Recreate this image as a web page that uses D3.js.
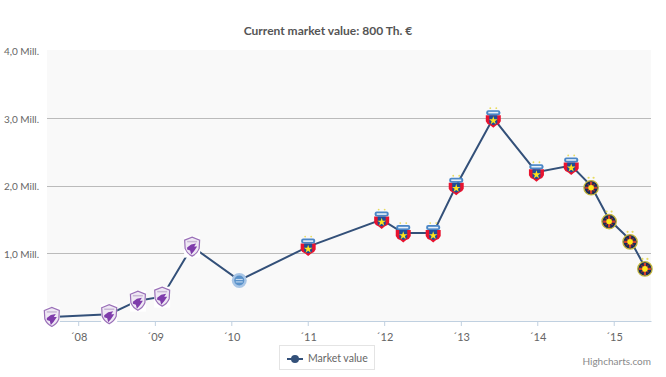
<!DOCTYPE html>
<html>
<head>
<meta charset="utf-8">
<script src="https://cdn.jsdelivr.net/npm/d3@7"></script>
<style>
    html, body { margin: 0; padding: 0; background: #fff; }
    svg { display: block; }
    text { font-family: Lato, "Open Sans", sans-serif; }
</style>
</head>
<body>
<svg id="chart" width="666" height="377"></svg>
<script>
const dates = ["2007-08-28", "2008-05-28", "2008-10-12", "2009-02-05", "2009-06-28", "2010-02-08",
    "2011-01-03", "2011-12-20", "2012-04-01", "2012-08-22", "2012-12-10", "2013-06-05",
    "2013-12-28", "2014-06-12", "2014-09-15", "2014-12-10", "2015-03-20", "2015-05-30"];
const values = [0.06, 0.1, 0.3, 0.36, 1.1, 0.6, 1.1, 1.5, 1.3, 1.3, 2.0, 3.0, 2.2, 2.3, 2.0, 1.5, 1.2, 0.8];
const clubs = ["fcb", "fcb", "fcb", "fcb", "fcb", "pan", "ste", "ste", "ste", "ste", "ste", "ste",
    "ste", "ste", "fcs", "fcs", "fcs", "fcs"];
const yearTicks = [2008, 2009, 2010, 2011, 2012, 2013, 2014, 2015];
const valueTicks = [1, 2, 3, 4];
const valueLabels = ["1,0 Mill.", "2,0 Mill.", "3,0 Mill.", "4,0 Mill."];

const parseDate = d3.timeParse("%Y-%m-%d");
const points = dates.map((d, i) => ({date: parseDate(d), value: values[i], club: clubs[i]}));

const margin = {top: 50, right: 15, bottom: 56, left: 47};
const width = 666, height = 377;

const svg = d3.select("#chart");

const xScale = d3.scaleTime()
    .domain([parseDate("2007-08-05"), parseDate("2015-06-28")])
    .range([margin.left, width - margin.right]);

const yScale = d3.scaleLinear()
    .domain([0, 4])
    .range([height - margin.bottom, margin.top + 0.5]);

// Plot background
svg.append("rect")
    .attr("x", margin.left)
    .attr("y", margin.top)
    .attr("width", width - margin.left - margin.right)
    .attr("height", height - margin.bottom - margin.top)
    .attr("fill", "#f9f9f9");

// Title
svg.append("text")
    .attr("x", 328)
    .attr("y", 35)
    .attr("text-anchor", "middle")
    .attr("font-size", 12)
    .attr("font-weight", 700)
    .attr("fill", "#555")
    .text("Current market value: 800 Th. €");

// Axes
const yAxis = d3.axisLeft(yScale)
    .tickValues(valueTicks)
    .tickSize(0)
    .tickPadding(8)
    .tickFormat((d, i) => valueLabels[i]);

const yAxisG = svg.append("g")
    .attr("transform", `translate(${margin.left},1)`)
    .call(yAxis);
yAxisG.select(".domain").remove();
yAxisG.selectAll("text").attr("font-size", 10).attr("fill", "#666").attr("font-family", "Lato");

svg.append("g")
    .selectAll("line")
    .data(valueTicks.filter(d => d < 4))
    .enter().append("line")
    .attr("x1", margin.left)
    .attr("x2", width - margin.right)
    .attr("y1", d => Math.round(yScale(d)) + 0.5)
    .attr("y2", d => Math.round(yScale(d)) + 0.5)
    .attr("stroke", "#bbb");

const xAxis = d3.axisBottom(xScale)
    .tickValues(yearTicks.map(y => new Date(y, 0, 1)))
    .tickSize(5)
    .tickSizeOuter(0)
    .tickPadding(7)
    .tickFormat(d => "´" + d3.timeFormat("%y")(d));

const xAxisG = svg.append("g")
    .attr("transform", `translate(0,${height - margin.bottom})`)
    .call(xAxis);
xAxisG.select(".domain").attr("stroke", "#c0d0e0");
xAxisG.selectAll("line").attr("stroke", "#c0d0e0");
xAxisG.selectAll("text").attr("font-size", 11).attr("fill", "#666").attr("font-family", "Lato");

// Value line
const line = d3.line()
    .x(d => xScale(d.date))
    .y(d => yScale(d.value));

svg.append("path")
    .datum(points)
    .attr("d", line)
    .attr("fill", "none")
    .attr("stroke", "#335079")
    .attr("stroke-width", 2);

// Club crests
const shield = "M-7.5,-6.5 L0,-9.5 L7.5,-6.5 L7,2 Q5,7 0,9.5 Q-5,7 -7,2 Z";

function drawFcb(g) {
    g.append("rect").attr("x", -8).attr("y", -10).attr("width", 16).attr("height", 21).attr("fill", "#fff");
    g.append("path").attr("d", shield).attr("fill", "#efe8f4").attr("stroke", "#9a70b8").attr("stroke-width", 1.2);
    g.append("path").attr("d", "M-5,1 L-1,-2 L4,-3 L2,0 L5,0 Q2,5 -1,8 L-2,4 L-5,3 Z").attr("fill", "#7f3cab");
    g.append("path").attr("d", "M-5,-5 L5,-5").attr("stroke", "#c9b8d6").attr("stroke-width", 1.5);
}

function drawPan(g) {
    g.append("circle").attr("r", 7.5).attr("fill", "#a9c6e6");
    g.append("circle").attr("r", 5).attr("fill", "#5a92ca");
    g.append("path").attr("d", "M-3.5,-1 H3.5 M-3.5,1.5 H3.5").attr("stroke", "#cfe0f2").attr("stroke-width", 1);
}

function drawSte(g) {
    g.append("circle").attr("cx", -3).attr("cy", -10).attr("r", 0.9).attr("fill", "#e8dc60");
    g.append("circle").attr("cx", 3).attr("cy", -10).attr("r", 0.9).attr("fill", "#e8dc60");
    g.append("path").attr("d", "M-7.5,-3 H7.5 V3 Q6.5,6 3,7 L0,9.5 L-3,7 Q-6.5,6 -7.5,3 Z").attr("fill", "#e8132f");
    g.append("path").attr("d", "M-4,-3 H4 V5 L0,7 L-4,5 Z").attr("fill", "#1f4d96");
    g.append("rect").attr("x", -7).attr("y", -8).attr("width", 14).attr("height", 5).attr("rx", 2).attr("fill", "#4a86c6");
    g.append("rect").attr("x", -5).attr("y", -6.3).attr("width", 10).attr("height", 1.6).attr("fill", "#e6f0f9");
    g.append("path").attr("d", d3.symbol(d3.symbolStar, 22)()).attr("transform", "translate(0,2.5)").attr("fill", "#ffe21a");
}

function drawFcs(g) {
    g.append("circle").attr("cx", -2.5).attr("cy", -8).attr("r", 1.1).attr("fill", "#e8dc60");
    g.append("circle").attr("cx", 2.5).attr("cy", -8).attr("r", 1.1).attr("fill", "#e8dc60");
    g.append("circle").attr("cy", 2).attr("r", 7.2).attr("fill", "#172b57").attr("stroke", "#c4b53c").attr("stroke-width", 1.3);
    g.append("path").attr("d", "M-6,2 H6 M0,-4 V8").attr("stroke", "#d0402c").attr("stroke-width", 2.2);
    g.append("path").attr("d", "M-3.5,-1.5 L3.5,5.5 M3.5,-1.5 L-3.5,5.5").attr("stroke", "#a8322c").attr("stroke-width", 1.2);
    g.append("circle").attr("cy", 2).attr("r", 2.8).attr("fill", "#ffe81a");
}

const crestDrawers = {fcb: drawFcb, pan: drawPan, ste: drawSte, fcs: drawFcs};

svg.append("g")
    .selectAll("g")
    .data(points)
    .enter().append("g")
    .attr("transform", d => `translate(${xScale(d.date)},${yScale(d.value)})`)
    .each(function(d) { crestDrawers[d.club](d3.select(this)); });

// Legend
const legend = svg.append("g");
legend.append("rect")
    .attr("x", 279.5).attr("y", 345.5)
    .attr("width", 95).attr("height", 24)
    .attr("fill", "#fff")
    .attr("stroke", "#e4e4e4");
legend.append("line")
    .attr("x1", 287).attr("x2", 303)
    .attr("y1", 359).attr("y2", 359)
    .attr("stroke", "#335079").attr("stroke-width", 2);
legend.append("circle")
    .attr("cx", 295).attr("cy", 359).attr("r", 4)
    .attr("fill", "#335079");
legend.append("text")
    .attr("x", 308).attr("y", 362)
    .attr("font-size", 10.5)
    .attr("fill", "#666")
    .text("Market value");

// Credits
svg.append("text")
    .attr("x", 651).attr("y", 365)
    .attr("text-anchor", "end")
    .attr("font-size", 10)
    .attr("fill", "#8a8a8a")
    .text("Highcharts.com");
</script>
</body>
</html>
